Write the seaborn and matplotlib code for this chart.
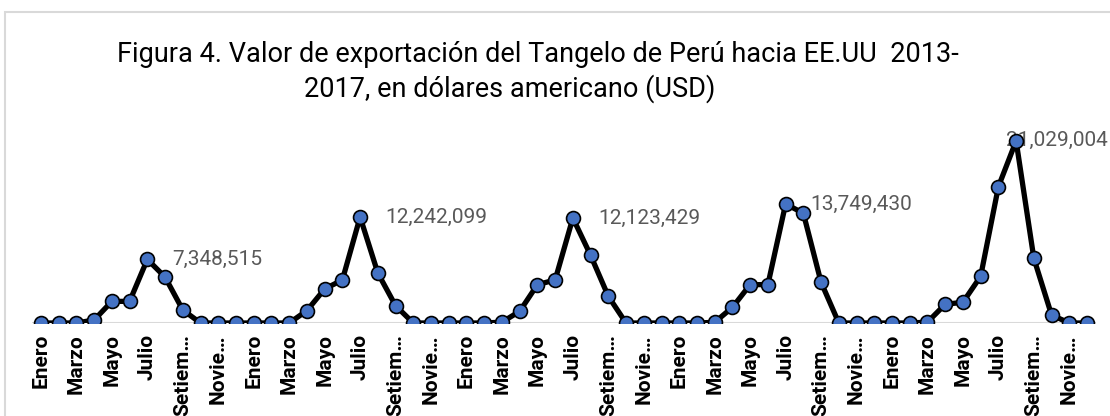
import numpy as np
import pandas as pd
import matplotlib.pyplot as plt
import seaborn as sns
from matplotlib.patches import Rectangle

# Monthly export value (USD)
years = [2013, 2014, 2015, 2016, 2017]
months = ["Enero", "Febrero", "Marzo", "Abril", "Mayo", "Junio", "Julio",
          "Agosto", "Setiembre", "Octubre", "Noviembre", "Diciembre"]
tick_names = ["Enero", "Marzo", "Mayo", "Julio", "Setiem\u2026", "Novie\u2026"]

v2013 = [0, 0, 0, 350000, 2500000, 2500000, 7348515, 5300000, 1500000, 0, 0, 0]
v2014 = [0, 0, 0, 1430000, 3930000, 4970000, 12242099, 5770000, 2000000, 0, 0, 0]
v2015 = [0, 0, 100000, 1350000, 4430000, 4970000, 12123429, 7820000, 3080000, 0, 0, 0]
v2016 = [0, 0, 80000, 1810000, 4430000, 4430000, 13749430, 12670000, 4700000, 0, 0, 0]
v2017 = [0, 0, 100000, 2160000, 2390000, 5390000, 15740000, 21029004, 7470000, 920000, 0, 0]

# labelled peaks: (year, month index)
peaks = [(2013, 6), (2014, 6), (2015, 6), (2016, 6), (2017, 7)]
peak_offsets = [(25, 0), (25, 0), (25, 0), (25, 0), (-10, 0)]

values = v2013 + v2014 + v2015 + v2016 + v2017
df = pd.DataFrame({
    "year": np.repeat(years, 12),
    "month": months * len(years),
    "usd": values,
})
df["pos"] = np.arange(len(df))

sns.set_style("white")
plt.rcParams["font.family"] = ["Roboto", "DejaVu Sans"]

fig = plt.figure(figsize=(11.1, 4.16), dpi=100)
ax = fig.add_axes([32.1 / 1110, 93 / 416, 1063.8 / 1110, 216.5 / 416])

sns.lineplot(data=df, x="pos", y="usd", ax=ax, color="black", linewidth=3.8,
             marker="o", markersize=10, markerfacecolor="#4472C4",
             markeredgecolor="black", markeredgewidth=1.2, zorder=3)

ax.axhline(0, color="#d9d9d9", linewidth=1.5, zorder=1)
ax.set_xlim(-0.5, len(df) - 0.5)
ax.set_ylim(0, 25e6)
ax.set_yticks([])
ax.set_xlabel("")
ax.set_ylabel("")
for s in ax.spines.values():
    s.set_visible(False)

ticks = df.index[df["month"].isin(["Enero", "Marzo", "Mayo", "Julio", "Setiembre", "Noviembre"])]
labels = [tick_names[m // 2] for m in (df.loc[ticks, "pos"] % 12)]
ax.set_xticks(df.loc[ticks, "pos"])
ax.set_xticklabels(labels, rotation=90, fontsize=15, fontweight="bold", color="black")
ax.tick_params(axis="x", length=0, pad=8)

for (yr, m), off in zip(peaks, peak_offsets):
    row = df[(df["year"] == yr) & (df["month"] == months[m])].iloc[0]
    ax.annotate(f"{row['usd']:,.0f}", (row["pos"], row["usd"]), xytext=off,
                textcoords="offset pixels", ha="left", va="center",
                fontsize=15, color="#595959", zorder=2, annotation_clip=False)

fig.text(538 / 1110, 1 - 54 / 416,
         "Figura 4. Valor de exportación del Tangelo de Perú hacia EE.UU  2013-",
         ha="center", va="center", fontsize=19.5, color="black")
fig.text(510 / 1110, 1 - 89 / 416, "2017, en dólares americano (USD)",
         ha="center", va="center", fontsize=19.5, color="black")

fig.add_artist(Rectangle((5 / 1110, -0.1), 1.2, 1 - 12 / 416 + 0.1,
                         transform=fig.transFigure, fill=False,
                         edgecolor="#d9d9d9", linewidth=1.5))

fig.savefig("out.png", dpi=100)
